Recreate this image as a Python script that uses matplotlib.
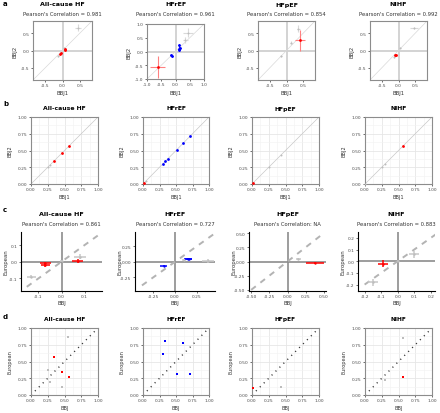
import numpy as np
import matplotlib
matplotlib.use('Agg')
import matplotlib.pyplot as plt

plt.rcParams['font.family'] = 'DejaVu Sans'

W, H = 440, 414

titles = ['All-cause HF', 'HFrEF', 'HFpEF', 'NIHF']
r_a = ['0.981', '0.961', '0.854', '0.992']
r_c = ['0.861', '0.727', 'NA', '0.883']

# ---- fila a: BBJ1 vs BBJ2 (efectos con error)
a_x = [[0.45, 0.05, -0.12, -0.05, -0.07, 0.07, 0.08],
       [0.45, 0.35, -0.63, -0.15, -0.13, 0.12, 0.12, 0.16, 0.14],
       [0.35, 0.12, -0.15, 0.40],
       [0.45, 0.05, -0.12, -0.08, -0.10]]
a_y = [[0.65, 0.08, -0.17, -0.08, -0.11, 0.03, 0.02],
       [0.68, 0.42, -0.57, -0.12, -0.16, 0.22, 0.10, 0.14, 0.06],
       [0.63, 0.22, -0.15, 0.30],
       [0.65, 0.08, -0.20, -0.12, -0.14]]
a_xe = [[0.08, 0.02, 0.02, 0.03, 0.03, 0.03, 0.03],
        [0.18, 0.10, 0.26, 0.04, 0.04, 0.03, 0.03, 0.03, 0.03],
        [0.05, 0.03, 0.03, 0.15],
        [0.12, 0.02, 0.02, 0.03, 0.03]]
a_ye = [[0.10, 0.03, 0.03, 0.03, 0.03, 0.03, 0.02],
        [0.17, 0.12, 0.40, 0.04, 0.04, 0.05, 0.05, 0.04, 0.04],
        [0.10, 0.04, 0.03, 0.30],
        [0.04, 0.02, 0.02, 0.03, 0.03]]
a_col = [['g', 'g', 'g', 'r', 'r', 'r', 'r'],
         ['g', 'g', 'r', 'b', 'b', 'b', 'b', 'b', 'b'],
         ['g', 'g', 'g', 'r'],
         ['g', 'g', 'g', 'r', 'r']]
a_lim = [0.85, 1.0, 0.85, 0.85]
a_ticks = [[-0.5, 0.0, 0.5], [-1.0, -0.5, 0.0, 0.5, 1.0], [-0.5, 0.0, 0.5], [-0.5, 0.0, 0.5]]

# ---- fila b: BBJ1 vs BBJ2 (frecuencias)
b_x = [[0.25, 0.28, 0.34, 0.46, 0.56],
       [0.02, 0.05, 0.30, 0.34, 0.38, 0.51, 0.61, 0.71],
       [0.01, 0.25, 0.44],
       [0.00, 0.25, 0.30, 0.56]]
b_y = [[0.25, 0.28, 0.34, 0.46, 0.57],
       [0.02, 0.05, 0.30, 0.34, 0.37, 0.51, 0.61, 0.71],
       [0.01, 0.25, 0.44],
       [0.00, 0.25, 0.30, 0.57]]
b_col = [['g', 'g', 'r', 'r', 'r'],
         ['r', 'g', 'b', 'b', 'b', 'b', 'b', 'b'],
         ['r', 'g', 'g'],
         ['g', 'g', 'g', 'r']]

# ---- fila c: BBJ vs European (efectos)
c_x = [[-0.07, -0.07, 0.07, -0.13, 0.08, 0.00],
       [-0.13, 0.15, 0.16, 0.38, 0.10],
       [0.38, 0.15],
       [-0.09, 0.10, -0.15, 0.00]]
c_y = [[-0.01, -0.02, 0.005, -0.09, 0.03, 0.005],
       [-0.06, 0.05, 0.04, 0.01, 0.03],
       [-0.02, 0.05],
       [-0.02, 0.06, -0.18, 0.00]]
c_xe = [[0.025, 0.02, 0.025, 0.02, 0.025, 0.005],
        [0.04, 0.05, 0.04, 0.07, 0.02],
        [0.12, 0.03],
        [0.03, 0.03, 0.03, 0.005]]
c_ye = [[0.01, 0.01, 0.01, 0.01, 0.015, 0.005],
        [0.01, 0.015, 0.01, 0.03, 0.01],
        [0.02, 0.01],
        [0.03, 0.03, 0.03, 0.005]]
c_col = [['r', 'r', 'r', 'g', 'g', 'g'],
         ['b', 'b', 'b', 'g', 'g'],
         ['r', 'g'],
         ['r', 'g', 'g', 'g']]
c_xlim = [(-0.175, 0.175), (-0.46, 0.46), (-0.53, 0.53), (-0.24, 0.225)]
c_ylim = [(-0.175, 0.178), (-0.47, 0.48), (-0.52, 0.52), (-0.255, 0.25)]
c_ticks = [[-0.1, 0.0, 0.1], [-0.25, 0.0, 0.25], [-0.5, -0.25, 0.0, 0.25, 0.5],
           [-0.2, -0.1, 0.0, 0.1, 0.2]]
c_diag = [(-0.15, 0.16), (-0.38, 0.45), (-0.5, 0.5), (-0.2, 0.23)]

# ---- fila d: BBJ vs European (frecuencias)
d_x = [[0.34, 0.46, 0.56, 0.55, 0.25, 0.29, 0.47],
       [0.34, 0.60, 0.30, 0.51, 0.71],
       [0.01, 0.44],
       [0.56, 0.30, 0.56]]
d_y = [[0.57, 0.35, 0.27, 0.87, 0.38, 0.19, 0.12],
       [0.80, 0.78, 0.61, 0.31, 0.32],
       [0.11, 0.12],
       [0.85, 0.22, 0.27]]
d_col = [['r', 'r', 'r', 'g', 'g', 'g', 'g'],
         ['b', 'b', 'b', 'b', 'b'],
         ['r', 'g'],
         ['g', 'g', 'r']]

cmap = {'r': '#ff0000', 'b': '#0000ff', 'g': '#bdbdbd'}
ecmap_a = {'r': '#ff8080', 'b': '#0000ff', 'g': '#d9d9d9'}
ecmap_c = {'r': '#ff0000', 'b': '#0000ff', 'g': '#c8c8c8'}

FT = 4.6    # titulos
FS = 3.8    # subtitulo
FL = 3.9    # etiquetas de ejes
FK = 3.2    # ticks

fig = plt.figure(figsize=(W / 100, H / 100), dpi=100)


def ax_px(x0, y0, x1, y1):
    return fig.add_axes([x0 / W, 1 - y1 / H, (x1 - x0) / W, (y1 - y0) / H])


def txt(x, y, s, **kw):
    fig.text(x / W, 1 - y / H, s, **kw)


def fmt(v, nd):
    return ('%.' + str(nd) + 'f') % v


def box_style(ax):
    for s in ax.spines.values():
        s.set_color('#8c8c8c')
        s.set_linewidth(0.8)
    ax.tick_params(length=1.5, width=0.5, labelsize=FK, labelcolor='#4d4d4d',
                   color='#333333', pad=1)


# ---------- fila a
ax_a = [(33, 22, 92, 81), (147, 25, 204, 80), (258, 22, 315, 81), (370, 22, 427, 81)]
for i in range(4):
    ax = ax_px(*ax_a[i])
    L = a_lim[i]
    ax.axhline(0, color='#d0d0d0', lw=1.3, zorder=1)
    ax.axvline(0, color='#d0d0d0', lw=1.3, zorder=1)
    ax.plot([-L, L], [-L, L], color='#d9d9d9', lw=0.5, zorder=1)
    for x, y, xe, ye, c in zip(a_x[i], a_y[i], a_xe[i], a_ye[i], a_col[i]):
        ax.errorbar(x, y, xerr=xe, yerr=ye, fmt='none', ecolor=ecmap_a[c],
                    elinewidth=0.8, zorder=2)
        ax.scatter(x, y, s=4 if c != 'g' else 2, color=cmap[c], zorder=3, lw=0)
    ax.set_xlim(-L, L)
    ax.set_ylim(-L, L)
    ax.set_xticks(a_ticks[i])
    ax.set_yticks(a_ticks[i])
    ax.set_xticklabels([fmt(t, 1) for t in a_ticks[i]])
    ax.set_yticklabels([fmt(t, 1) for t in a_ticks[i]])
    box_style(ax)
    cx = (ax_a[i][0] + ax_a[i][2]) / 2
    txt(cx, 5, titles[i], ha='center', va='center', fontsize=FT, fontweight='bold')
    txt(cx, 15, "Pearson's Correlation = " + r_a[i], ha='center', va='center',
        fontsize=FS, color='#333333')
    txt(cx, 94, 'BBJ1', ha='center', va='center', fontsize=FL, color='#333333')
    txt(ax_a[i][0] - 18, (ax_a[i][1] + ax_a[i][3]) / 2, 'BBJ2', ha='center',
        va='center', rotation=90, fontsize=FL, color='#333333')

# ---------- filas b y d
xs_bd = [(31, 98), (143, 209), (252, 319), (365, 432)]
ticks01 = [0, 0.25, 0.5, 0.75, 1.0]


def freq_panel(ax, xs, ys, cols, diag):
    ax.set_facecolor('white')
    ax.set_xlim(0, 1)
    ax.set_ylim(0, 1)
    ax.set_xticks(ticks01)
    ax.set_yticks(ticks01)
    ax.set_xticks(np.arange(0.125, 1, 0.25), minor=True)
    ax.set_yticks(np.arange(0.125, 1, 0.25), minor=True)
    ax.grid(True, which='major', color='#e6e6e6', lw=0.6)
    ax.grid(True, which='minor', color='#f2f2f2', lw=0.4)
    ax.tick_params(which='minor', length=0)
    ax.set_axisbelow(True)
    ax.set_xticklabels(['%.2f' % t for t in ticks01])
    ax.set_yticklabels(['%.2f' % t for t in ticks01])
    if diag == 'b':
        ax.plot([0, 1], [0, 1], color='#c8c8c8', lw=0.5, zorder=2)
    else:
        ax.plot([0, 1], [0, 1], color='#333333', lw=1.0, ls=(0, (0.8, 3.2)), zorder=2)
    for x, y, c in zip(xs, ys, cols):
        ax.scatter(x, y, s=4 if c != 'g' else 2, color=cmap[c], zorder=3, lw=0,
                   marker='s' if diag == 'd' else 'o', clip_on=False)
    box_style(ax)


for i in range(4):
    x0, x1 = xs_bd[i]
    cx = (x0 + x1) / 2
    ax = ax_px(x0, 118, x1, 185)
    freq_panel(ax, b_x[i], b_y[i], b_col[i], 'b')
    txt(cx, 109, titles[i], ha='center', va='center', fontsize=FT - 0.2, fontweight='bold')
    txt(cx, 198, 'BBJ1', ha='center', va='center', fontsize=FL - 0.3, color='#333333')
    txt(x0 - 21, 151, 'BBJ2', ha='center', va='center', rotation=90, fontsize=FL - 0.3,
        color='#333333')

    ax = ax_px(x0, 329, x1, 396)
    freq_panel(ax, d_x[i], d_y[i], d_col[i], 'd')
    txt(cx, 320, titles[i], ha='center', va='center', fontsize=FT - 0.4, fontweight='bold')
    txt(cx, 409, 'BBJ', ha='center', va='center', fontsize=FL - 0.3, color='#333333')
    txt(x0 - 21, 362, 'European', ha='center', va='center', rotation=90, fontsize=FL - 0.3,
        color='#333333')

# ---------- fila c
ax_c = [(21, 233, 102, 292), (135, 233, 215, 292), (249, 233, 326, 292), (358, 233, 435, 292)]
for i in range(4):
    ax = ax_px(*ax_c[i])
    ax.axhline(0, color='#8c8c8c', lw=1.2, zorder=1)
    ax.axvline(0, color='#8c8c8c', lw=1.2, zorder=1)
    d0, d1 = c_diag[i]
    ax.plot([d0, d1], [d0, d1], color='#b3b3b3', lw=1.4, ls=(0, (3, 3)), zorder=1)
    for x, y, xe, ye, c in zip(c_x[i], c_y[i], c_xe[i], c_ye[i], c_col[i]):
        ax.errorbar(x, y, xerr=xe, yerr=ye, fmt='none', ecolor=ecmap_c[c],
                    elinewidth=1.1, zorder=2)
        ax.scatter(x, y, s=3, color=cmap[c], zorder=3, lw=0)
    ax.set_xlim(*c_xlim[i])
    ax.set_ylim(*c_ylim[i])
    ax.set_xticks(c_ticks[i])
    ax.set_yticks(c_ticks[i])
    nd = 2 if i in (1, 2) else 1
    ax.set_xticklabels([fmt(t, nd) for t in c_ticks[i]])
    ax.set_yticklabels([fmt(t, nd) for t in c_ticks[i]])
    ax.spines['top'].set_visible(False)
    ax.spines['right'].set_visible(False)
    ax.spines['left'].set_color('black')
    ax.spines['bottom'].set_color('black')
    ax.spines['left'].set_linewidth(0.8)
    ax.spines['bottom'].set_linewidth(0.8)
    ax.tick_params(length=1.5, width=0.5, labelsize=FK, labelcolor='#4d4d4d',
                   color='#333333', pad=1)
    cx = (ax_c[i][0] + ax_c[i][2]) / 2
    sep = ': ' if r_c[i] == 'NA' else ' = '
    txt(cx, 215, titles[i], ha='center', va='center', fontsize=FT, fontweight='bold')
    txt(cx, 225, "Pearson's Correlation" + sep + r_c[i], ha='center', va='center',
        fontsize=FS, color='#333333')
    txt(cx, 304, 'BBJ', ha='center', va='center', fontsize=FL, color='#333333')
    txt(ax_c[i][0] - 15, 262, 'European', ha='center', va='center', rotation=90,
        fontsize=FL, color='#333333')

# letras de panel
for s, y in zip('abcd', [4, 104, 210, 317]):
    txt(3, y, s, ha='left', va='center', fontsize=5, fontweight='bold')

fig.savefig('out.png', dpi=100)
